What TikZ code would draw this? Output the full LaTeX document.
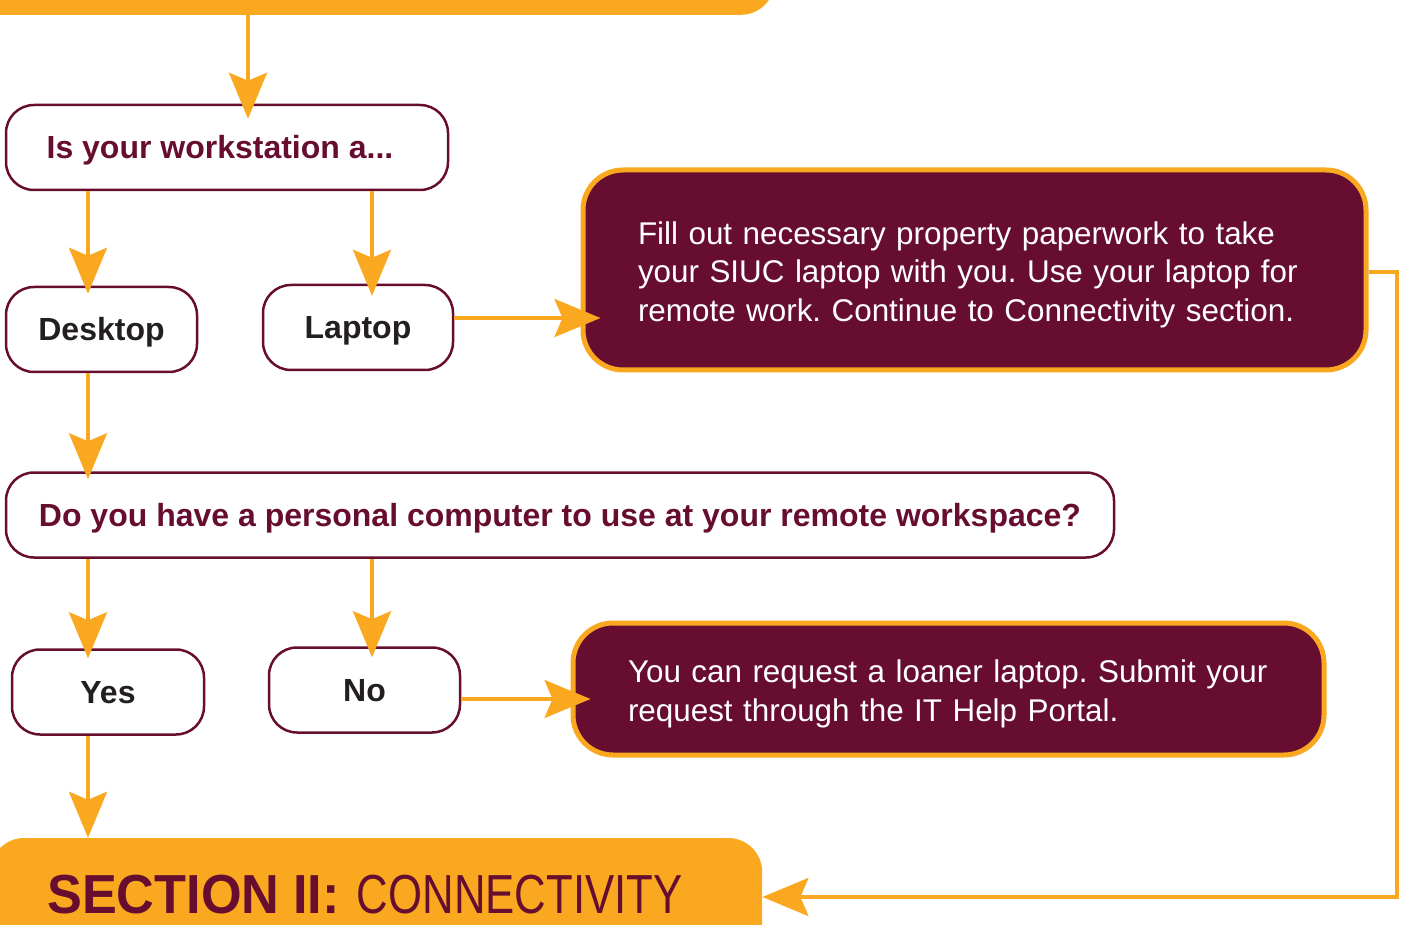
\documentclass[tikz,border=0pt]{standalone}
\usepackage{fontspec}
\setmainfont{Liberation Sans}
\newfontfamily\condfont[FakeStretch=0.795]{Liberation Sans}
\newfontfamily\secfont[FakeStretch=0.95]{Liberation Sans}
\usetikzlibrary{arrows.meta}
\definecolor{siumaroon}{HTML}{670E30}
\definecolor{siugold}{HTML}{F9A81F}
\definecolor{darktext}{HTML}{231F20}

\tikzset{
    question/.style={draw=siumaroon, line width=2.5pt, fill=white, rounded corners=28pt,
        text=siumaroon, font=\fontsize{32}{38}\selectfont\bfseries, minimum height=85pt,
        text height=23pt, text depth=0pt},
    answer/.style={question, text=darktext},
    infobox/.style={draw=siugold, line width=5pt, fill=siumaroon, rounded corners=40pt,
        text=white, font=\fontsize{31.4}{38.5}\selectfont\frenchspacing, align=left, inner xsep=55pt},
    goldbar/.style={fill=siugold, rounded corners=34pt},
    flow/.style={draw=siugold, line width=3.5pt, -{Stealth[length=46pt,width=38pt,inset=8pt]}}
}

\begin{document}
\begin{tikzpicture}[x=1pt,y=-1pt]
    \useasboundingbox (0,0) rectangle (1401,925);
    \clip (0,0) rectangle (1401,925);

    % Columns of the down arrows
    \coordinate (colT) at (248,0);
    \coordinate (colA) at (88,0);
    \coordinate (colB) at (372,0);

    % End of previous section
    \node[goldbar, anchor=south east, minimum width=820pt, minimum height=90pt] (prev) at (775,15) {};

    % Questions
    \node[question, minimum width=442pt] (q1) at (227,147.5) {Is your workstation a...\kern14pt};
    \node[question, minimum width=1108pt] (q2) at (560,515) {Do you have a personal computer to use at your remote workspace?};

    % Answers
    \node[answer, minimum width=191pt] (desk) at (101.5,329.5) {Desktop};
    \node[answer, minimum width=190pt] (lap) at (358,327.5) {Laptop};
    \node[answer, minimum width=192pt] (yes) at (108,692) {Yes};
    \node[answer, minimum width=191pt] (no) at (364.5,690) {No};

    % Info boxes
    \node[infobox, text width=673pt, minimum height=200pt] (fill) at (974.5,270)
        {\rule{0pt}{32pt}\mbox{Fill out necessary property paperwork to take}\\
         \mbox{your SIUC laptop with you. Use your laptop for}\\
         \mbox{remote work. Continue to Connectivity section.}};
    \node[infobox, text width=641pt, minimum height=132pt] (loan) at (948.5,689)
        {\rule{0pt}{33pt}\mbox{You can request a loaner laptop. Submit your}\\
         \mbox{request through the IT Help Portal.}};

    % Next section
    \node[goldbar, anchor=base west, text width=658pt, inner xsep=57pt, inner ysep=0pt,
        text height=75pt, text depth=60pt, text=siumaroon, align=left] (sec) at (-10,913)
        {\fontsize{55}{60}\selectfont\mbox{{\secfont\bfseries SECTION\hspace{14pt}II:}\hspace{17pt}{\condfont CONNECTIVITY}}};

    % Arrows
    \coordinate (lapout) at ([yshift=9.5pt]lap.east);
    \coordinate (noout) at ([yshift=-9pt]no.east);
    \coordinate (rt) at (1397,897);
    \draw[flow, shorten >=-15pt] (prev.south -| colT) -- (q1.north -| colT);
    \draw[flow, shorten >=-8pt] (q1.south -| colA) -- (desk.north -| colA);
    \draw[flow, shorten >=-12pt] (q1.south -| colB) -- (lap.north -| colB);
    \draw[flow, shorten >=-20pt] (lapout) -- (lapout -| fill.west);
    \draw[flow, shorten >=-8pt] (desk.south -| colA) -- (q2.north -| colA);
    \draw[flow, shorten >=-10pt] (q2.south -| colA) -- (yes.north -| colA);
    \draw[flow, shorten >=-11pt] (q2.south -| colB) -- (no.north -| colB);
    \draw[flow, shorten >=-20pt] (noout) -- (noout -| loan.west);
    \draw[flow] (yes.south -| colA) -- (sec.north -| colA);
    \draw[flow] ([yshift=-2pt]fill.east) -| (rt) -- (sec.east |- rt);
\end{tikzpicture}
\end{document}
